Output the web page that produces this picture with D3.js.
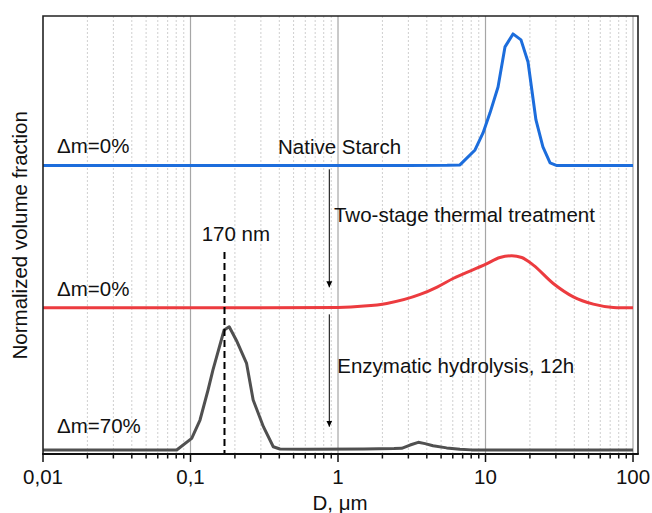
<!DOCTYPE html>
<html>
<head>
<meta charset="utf-8">
<script src="https://cdn.jsdelivr.net/npm/d3@7"></script>
<style>
  html, body { margin: 0; padding: 0; background: #fff; }
  svg { display: block; font-family: "Liberation Sans", Arial, sans-serif; }
</style>
</head>
<body>
<svg id="chart" width="652" height="513"></svg>
<script>
// ---------- data (D in µm, normalized volume fraction relative to each baseline) ----------
const nativeD = [0.01, 3, 5.5, 6.71, 8.49, 9.62, 10.73, 12.16, 13.56, 15.36, 17.4, 19.42, 21.98, 24.5, 27.4, 30.5, 100];
const nativeV = [0, 0, 0.002, 0.005, 0.110, 0.230, 0.371, 0.553, 0.835, 0.926, 0.884, 0.729, 0.321, 0.132, 0.019, 0, 0];

const thermalD = [0.01, 0.3, 1.0, 1.5, 2.14, 3.6, 4.7, 6.03, 10.07, 12.53, 15.06, 17.6, 21.1, 28.8, 39.4, 53.8, 73.5, 100];
const thermalV = [0, 0, 0.003, 0.012, 0.031, 0.094, 0.146, 0.206, 0.307, 0.354, 0.366, 0.354, 0.300, 0.171, 0.077, 0.026, 0.003, 0];

const hydroD = [0.01, 0.0806, 0.1019, 0.116, 0.1315, 0.142, 0.169, 0.183, 0.207, 0.240, 0.266, 0.312, 0.364, 0.404, 0.6, 1.5, 2.4, 2.70, 3.08, 3.50, 3.89, 4.41, 5.45, 6.71, 8, 100];
const hydroV = [0, 0, 0.082, 0.211, 0.422, 0.563, 0.844, 0.867, 0.761, 0.609, 0.352, 0.164, 0.023, 0.007, 0.006, 0.008, 0.010, 0.012, 0.035, 0.054, 0.045, 0.030, 0.015, 0.005, 0.001, 0];

const seriesOffsets = [2, 1, 0];            // vertical stacking of the three curves
const xTickValues = [0.01, 0.1, 1, 10, 100];
const xTickLabels = ["0,01", "0,1", "1", "10", "100"];
const labelTexts = ["\u0394m=0%", "\u0394m=0%", "\u0394m=70%"];
const peakMarkD = 0.17;                    // 170 nm
const arrowD = 0.873;

// ---------- layout ----------
const svg = d3.select("#chart");
const margin = { left: 43, right: 14, top: 16, bottom: 59 };
const W = 652, H = 513;
const FS = 20.5;

const x = d3.scaleLog().domain([0.01, 108.1]).range([margin.left, W - margin.right]);
const y = d3.scaleLinear().domain([-0.028, 3.052]).range([H - margin.bottom, margin.top]);

const x0 = margin.left, x1 = W - margin.right, yTop = margin.top, yBot = H - margin.bottom;

// ---------- grid ----------
const minorVals = [];
for (let e = -2; e < 2; e++) for (let k = 2; k <= 9; k++) minorVals.push(k * Math.pow(10, e));

svg.append("g").selectAll("line").data(minorVals).join("line")
  .attr("x1", d => x(d)).attr("x2", d => x(d))
  .attr("y1", yTop).attr("y2", yBot)
  .attr("stroke", "#cfcfcf").attr("stroke-width", 1)
  .attr("stroke-dasharray", "2,2");

svg.append("g").selectAll("line").data(xTickValues.slice(1)).join("line")
  .attr("x1", d => x(d)).attr("x2", d => x(d))
  .attr("y1", yTop).attr("y2", yBot)
  .attr("stroke", "#a6a6a6").attr("stroke-width", 1.2);

// ---------- curves ----------
const lineLin = d3.line().x(d => x(d[0])).y(d => y(d[1])).curve(d3.curveLinear);
const lineSmooth = d3.line().x(d => x(d[0])).y(d => y(d[1])).curve(d3.curveMonotoneX);

const mk = (D, V, off) => D.map((d, i) => [d, V[i] + off]);

svg.append("path").datum(mk(hydroD, hydroV, seriesOffsets[2]))
  .attr("d", lineLin).attr("fill", "none")
  .attr("stroke", "#505050").attr("stroke-width", 3).attr("stroke-linejoin", "round");

svg.append("path").datum(mk(thermalD, thermalV, seriesOffsets[1]))
  .attr("d", lineSmooth).attr("fill", "none")
  .attr("stroke", "#ec3b3f").attr("stroke-width", 3).attr("stroke-linejoin", "round");

svg.append("path").datum(mk(nativeD, nativeV, seriesOffsets[0]))
  .attr("d", lineLin).attr("fill", "none")
  .attr("stroke", "#1c6ddc").attr("stroke-width", 3).attr("stroke-linejoin", "round");

// ---------- dashed 170 nm line ----------
svg.append("line")
  .attr("x1", x(peakMarkD)).attr("x2", x(peakMarkD))
  .attr("y1", y(1.392)).attr("y2", yBot)
  .attr("stroke", "#000").attr("stroke-width", 2)
  .attr("stroke-dasharray", "7,4");

// ---------- arrows ----------
const defs = svg.append("defs");
defs.append("marker").attr("id", "ah")
  .attr("viewBox", "0 0 10 10").attr("refX", 10).attr("refY", 5)
  .attr("markerWidth", 6).attr("markerHeight", 11).attr("markerUnits", "userSpaceOnUse")
  .attr("orient", "auto")
  .append("path").attr("d", "M0,0 L10,5 L0,10 Z").attr("fill", "#000");

const arrows = [[1.974, 1.144], [0.954, 0.164]];
svg.append("g").selectAll("line").data(arrows).join("line")
  .attr("x1", x(arrowD)).attr("x2", x(arrowD))
  .attr("y1", d => y(d[0])).attr("y2", d => y(d[1]))
  .attr("stroke", "#000").attr("stroke-width", 1)
  .attr("marker-end", "url(#ah)");

// ---------- frame ----------
svg.append("path")
  .attr("d", `M${x0},${yBot} L${x0},${yTop} L${x1},${yTop} L${x1},${yBot}`)
  .attr("fill", "none").attr("stroke", "#222").attr("stroke-width", 1.6);

// ---------- x axis ----------
svg.append("g").selectAll("line").data(minorVals).join("line")
  .attr("x1", d => x(d)).attr("x2", d => x(d))
  .attr("y1", yBot).attr("y2", yBot + 4.5)
  .attr("stroke", "#111").attr("stroke-width", 1.5);
svg.append("g").selectAll("line").data(xTickValues).join("line")
  .attr("x1", d => x(d)).attr("x2", d => x(d))
  .attr("y1", yBot).attr("y2", yBot + 8)
  .attr("stroke", "#111").attr("stroke-width", 1.5);
svg.append("line").attr("x1", x0 - 0.8).attr("x2", x1 + 0.8)
  .attr("y1", yBot).attr("y2", yBot).attr("stroke", "#111").attr("stroke-width", 2.2);

svg.append("g").selectAll("text").data(xTickValues).join("text")
  .attr("x", d => x(d)).attr("y", yBot + 30)
  .attr("text-anchor", "middle").attr("font-size", FS).attr("fill", "#111")
  .text((d, i) => xTickLabels[i]);

svg.append("text").attr("x", x(1) + 2).attr("y", 510)
  .attr("text-anchor", "middle").attr("font-size", FS).attr("fill", "#111")
  .text("D, \u03bcm");

svg.append("text")
  .attr("transform", `translate(26.5,${y(1.51)}) rotate(-90)`)
  .attr("text-anchor", "middle").attr("font-size", FS).attr("fill", "#111")
  .text("Normalized volume fraction");

// ---------- annotations ----------
const ann = [
  { t: labelTexts[0], d: 0.01244, v: 2.089 },
  { t: "Native Starch", d: 0.392, v: 2.080 },
  { t: "Two-stage thermal treatment", d: 0.939, v: 1.600 },
  { t: "170 nm", d: 0.119, v: 1.473 },
  { t: labelTexts[1], d: 0.01244, v: 1.085 },
  { t: "Enzymatic hydrolysis, 12h", d: 0.989, v: 0.543 },
  { t: labelTexts[2], d: 0.01244, v: 0.117 }
];
svg.append("g").selectAll("text").data(ann).join("text")
  .attr("x", d => x(d.d)).attr("y", d => y(d.v))
  .attr("font-size", FS).attr("fill", "#111")
  .text(d => d.t);
</script>
</body>
</html>
